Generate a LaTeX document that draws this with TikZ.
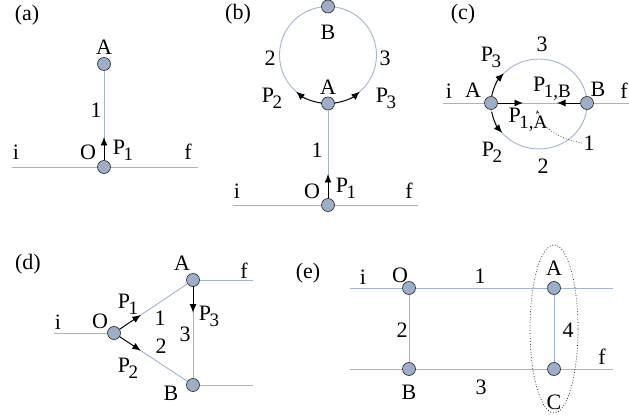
\documentclass[tikz,border=0pt]{standalone}
\usepackage{fontspec}
\setmainfont{Liberation Serif}
\usetikzlibrary{arrows.meta,calc}

\definecolor{wirecol}{RGB}{160,180,210}
\definecolor{dotfill}{RGB}{158,174,200}

% lowered subscript used for the momentum labels
\newcommand{\sbx}[1]{\kern-1.5pt\raisebox{-6pt}{\fontsize{19}{19}\selectfont #1}}

\tikzset{
  wire/.style={draw=wirecol, line width=0.9pt},
  dot/.style={circle, minimum size=13pt, inner sep=0pt, fill=dotfill, draw=black!85, line width=0.6pt},
  mom/.style={draw=black, line width=0.9pt, -{Latex[length=8.5pt,width=7pt]}},
  lbl/.style={inner sep=1pt, font=\fontsize{22}{22}\selectfont},
  hint/.style={draw=black!80, line width=0.7pt, dotted, -{Stealth[length=4pt,width=3.5pt]}},
  group/.style={draw=black, line width=0.7pt, dotted}
}

\begin{document}
\begin{tikzpicture}[x=1pt, y=-1pt]
\useasboundingbox (0,0) rectangle (629,419);

% ---------------- (a) ----------------
\coordinate (ai) at (12,167);
\coordinate (af) at (198,167);
\draw[wire] (ai) -- (af);
\node[dot] (aO) at (104,167) {};
\node[dot] (aA) at (104,64) {};
\draw[wire] (aO) -- (aA);
\coordinate (aP) at (104,137);
\draw[mom] (aO.north) -- (aP);
\node[lbl] (la)  at (27,15)   {(a)};
\node[lbl] (laA) at (104,47)  {A};
\node[lbl] (la1) at (96,110)  {1};
\node[lbl] (laO) at (88,152)  {O};
\node[lbl] (laP) at (123,150) {P\sbx{1}};
\node[lbl] (lai) at (16,152)  {i};
\node[lbl] (laf) at (188,152) {f};

% ---------------- (b) ----------------
\coordinate (bc) at (328,55);
\draw[wire] (bc) circle[radius=48.5];
\coordinate (bi) at (233,205);
\coordinate (bf) at (418,205);
\draw[wire] (bi) -- (bf);
\node[dot] (bO) at (328,205) {};
\node[dot] (bA) at (328,103.5) {};
\node[dot] (bB) at (328,6.5) {};
\draw[wire] (bA) -- (bO);
\coordinate (bP) at (328,174);
\draw[mom] (bO.north) -- (bP);
\draw[mom] ($(bc)+(97.5:48.5)$) arc[start angle=97.5, end angle=131, radius=48.5];
\draw[mom] ($(bc)+(82.5:48.5)$) arc[start angle=82.5, end angle=49, radius=48.5];
\node[lbl] (lb)  at (238,14)  {(b)};
\node[lbl] (lbB) at (328,32)  {B};
\node[lbl] (lb2) at (270,58)  {2};
\node[lbl] (lb3) at (385,58)  {3};
\node[lbl] (lbA) at (328,87)  {A};
\node[lbl] (lbP2) at (272,98) {P\sbx{2}};
\node[lbl] (lbP3) at (386,98) {P\sbx{3}};
\node[lbl] (lb1) at (317,150) {1};
\node[lbl] (lbO) at (312,191) {O};
\node[lbl] (lbP1) at (346,188) {P\sbx{1}};
\node[lbl] (lbi) at (237,191) {i};
\node[lbl] (lbf) at (409,191) {f};

% ---------------- (c) ----------------
\coordinate (cc) at (539,104);
\draw[wire] (cc) ellipse[x radius=48, y radius=45];
\coordinate (ci) at (443,103);
\coordinate (cf) at (629,103);
\draw[wire] (ci) -- (cf);
\node[dot] (cA) at (491,103) {};
\node[dot] (cB) at (587,103) {};
\coordinate (cPA) at (523,103);
\coordinate (cPB) at (557,103);
\draw[mom] (cA.east) -- (cPA);
\draw[mom] (cB.west) -- (cPB);
\draw[mom] ($(cc)+(190:48 and 45)$) arc[start angle=190, end angle=223, x radius=48, y radius=45];
\draw[mom] ($(cc)+(170:48 and 45)$) arc[start angle=170, end angle=140, x radius=48, y radius=45];
\coordinate (ch0) at (582,143);
\coordinate (ch1) at (537,110);
\draw[hint] (ch0) .. controls (560,139) and (541,128) .. (ch1);
\node[lbl] (lc)  at (463,14)  {(c)};
\node[lbl] (lc3) at (542,44)  {3};
\node[lbl] (lcP3) at (491,57) {P\sbx{3}};
\node[lbl] (lci) at (449,91)  {i};
\node[lbl] (lcA) at (473,90)  {A};
\node[lbl] (lcPB) at (552,89) {P\sbx{1,B}};
\node[lbl] (lcB) at (598,89)  {B};
\node[lbl] (lcf) at (624,91)  {f};
\node[lbl] (lcPA) at (528,120) {P\sbx{1,A}};
\node[lbl] (lcP2) at (492,152) {P\sbx{2}};
\node[lbl] (lc1) at (589,143) {1};
\node[lbl] (lc2) at (543,166) {2};

% ---------------- (d) ----------------
\coordinate (di) at (54,333);
\coordinate (dfA) at (253,280);
\coordinate (dfB) at (253,385);
\node[dot] (dO) at (114,333) {};
\node[dot] (dA) at (193,280) {};
\node[dot] (dB) at (193,385) {};
\draw[wire] (di) -- (dO);
\draw[wire] (dO) -- (dA);
\draw[wire] (dO) -- (dB);
\draw[wire] (dA) -- (dB);
\draw[wire] (dA) -- (dfA);
\draw[wire] (dB) -- (dfB);
\draw[mom] ($(dO)!0.07!(dA)$) -- ($(dO)!0.34!(dA)$);
\draw[mom] ($(dO)!0.07!(dB)$) -- ($(dO)!0.34!(dB)$);
\draw[mom] ($(dA)!0.06!(dB)$) -- ($(dA)!0.31!(dB)$);
\node[lbl] (ld)  at (28,264)  {(d)};
\node[lbl] (ldA) at (182,263) {A};
\node[lbl] (ldf) at (244,271) {f};
\node[lbl] (ldi) at (58,322)  {i};
\node[lbl] (ldO) at (100,321) {O};
\node[lbl] (ldP1) at (128,304) {P\sbx{1}};
\node[lbl] (ld1) at (160,318) {1};
\node[lbl] (ldP2) at (128,368) {P\sbx{2}};
\node[lbl] (ld2) at (161,346) {2};
\node[lbl] (ld3) at (185,334) {3};
\node[lbl] (ldP3) at (209,316) {P\sbx{3}};
\node[lbl] (ldB) at (171,393) {B};

% ---------------- (e) ----------------
\coordinate (ei) at (350,288);
\coordinate (ef) at (613,288);
\coordinate (eiB) at (350,369);
\coordinate (efC) at (613,369);
\draw[wire] (ei) -- (ef);
\draw[wire] (eiB) -- (efC);
\node[dot] (eO) at (409,288) {};
\node[dot] (eA) at (554,288) {};
\node[dot] (eB) at (409,369) {};
\node[dot] (eC) at (554,369) {};
\draw[wire] (eO) -- (eB);
\draw[wire] (eA) -- (eC);
\coordinate (eg) at (554,329);
\draw[group] (eg) ellipse[x radius=24, y radius=84];
\node[lbl] (le)  at (308,273) {(e)};
\node[lbl] (lei) at (363,277) {i};
\node[lbl] (leO) at (400,275) {O};
\node[lbl] (le1) at (480,276) {1};
\node[lbl] (leA) at (554,268) {A};
\node[lbl] (le2) at (402,330) {2};
\node[lbl] (le4) at (568,330) {4};
\node[lbl] (lef) at (602,357) {f};
\node[lbl] (leB) at (409,392) {B};
\node[lbl] (le3) at (481,387) {3};
\node[lbl] (leC) at (554,402) {C};
\end{tikzpicture}
\end{document}
